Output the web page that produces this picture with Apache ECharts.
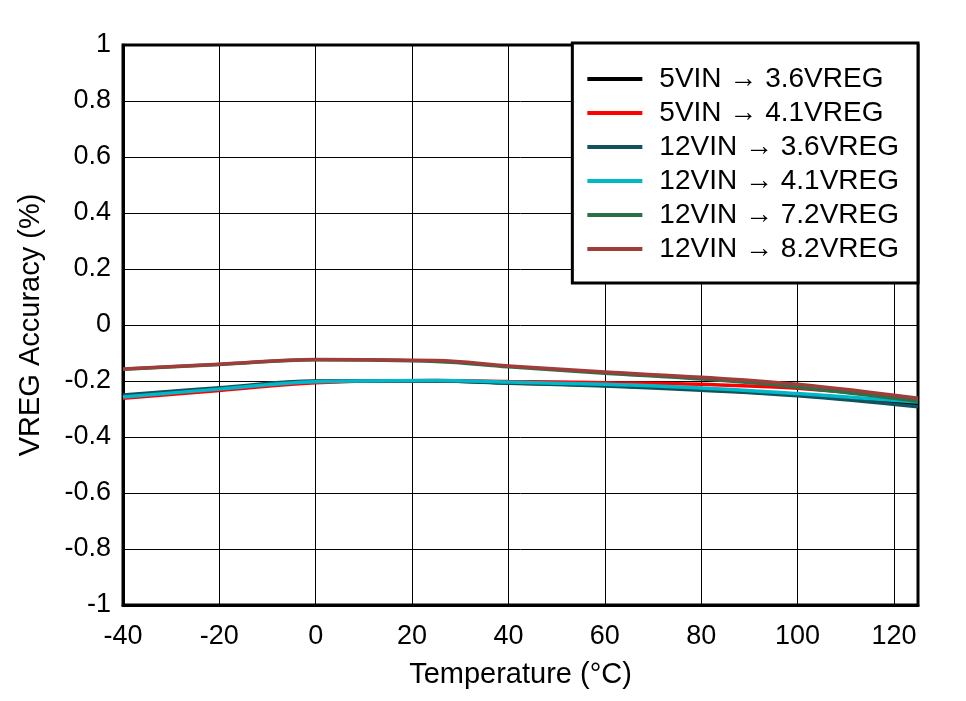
<!DOCTYPE html>
<html><head><meta charset="utf-8">
<script src="https://cdn.jsdelivr.net/npm/echarts@6/dist/echarts.min.js"></script>
<style>html,body{margin:0;padding:0;background:#fff}#c{width:966px;height:701px}</style>
</head><body><div id="c"></div>
<script>
const temps = [-40, -20, 0, 25, 40, 60, 80, 100, 125];
const seriesNames = ['5VIN \u2192 3.6VREG','5VIN \u2192 4.1VREG','12VIN \u2192 3.6VREG','12VIN \u2192 4.1VREG','12VIN \u2192 7.2VREG','12VIN \u2192 8.2VREG'];
const v5_36  = [-0.253, -0.227, -0.202, -0.200, -0.207, -0.216, -0.230, -0.250, -0.283];
const v5_41  = [-0.262, -0.234, -0.206, -0.198, -0.202, -0.206, -0.212, -0.226, -0.265];
const v12_36 = [-0.250, -0.224, -0.200, -0.200, -0.208, -0.218, -0.233, -0.253, -0.292];
const v12_41 = [-0.257, -0.229, -0.203, -0.198, -0.204, -0.212, -0.225, -0.245, -0.275];
const v12_72 = [-0.158, -0.141, -0.124, -0.130, -0.149, -0.172, -0.193, -0.222, -0.272];
const v12_82 = [-0.157, -0.140, -0.123, -0.127, -0.146, -0.168, -0.187, -0.212, -0.262];
const colors = ['#000000','#ff0000','#12525e','#00b8c8','#2a7048','#a03c3a'];
const allData = [v5_36, v5_41, v12_36, v12_41, v12_72, v12_82];
const font = 'Liberation Sans, Arial, sans-serif';
const chart = echarts.init(document.getElementById('c'), null, {renderer:'canvas'});
chart.setOption({
  animation:false,
  backgroundColor:'#fff',
  grid:{left:123,right:48,top:45,bottom:96,show:true,borderColor:'#000',borderWidth:3,containLabel:false},
  xAxis:{type:'value',min:-40,max:125,interval:20,
    name:'Temperature (\u00B0C)',nameLocation:'middle',nameGap:55,
    nameTextStyle:{fontFamily:font,fontSize:29,color:'#000'},
    axisLine:{show:true,onZero:false,lineStyle:{color:'#000',width:3}},axisTick:{show:false},
    axisLabel:{fontFamily:font,fontSize:27,color:'#000',margin:18,formatter:v=>v===125?'':String(v)},
    splitLine:{show:true,lineStyle:{color:'#000',width:1}}},
  yAxis:{type:'value',min:-1,max:1,interval:0.2,
    name:'VREG Accuracy (%)',nameLocation:'middle',nameGap:78,
    nameTextStyle:{fontFamily:font,fontSize:29,color:'#000'},
    axisLine:{show:true,onZero:false,lineStyle:{color:'#000',width:3}},axisTick:{show:false},
    axisLabel:{fontFamily:font,fontSize:27,color:'#000',margin:12,formatter:v=>String(Math.round(v*10)/10)},
    splitLine:{show:true,lineStyle:{color:'#000',width:1}}},
  legend:{right:48,top:43,orient:'vertical',backgroundColor:'#fff',borderColor:'#000',borderWidth:3,
    padding:[22,19,20,15],itemWidth:55,itemHeight:4,itemGap:6,icon:'rect',
    textStyle:{fontFamily:font,fontSize:28,color:'#000',padding:[0,0,0,12]},
    data:seriesNames},
  series: allData.map((d,i)=>({
    name:seriesNames[i],type:'line',smooth:0.4,showSymbol:false,symbol:'none',
    data:temps.map((t,j)=>[t,d[j]]),
    lineStyle:{color:colors[i],width:3.5},itemStyle:{color:colors[i]},z:2+i
  }))
});
</script></body></html>
